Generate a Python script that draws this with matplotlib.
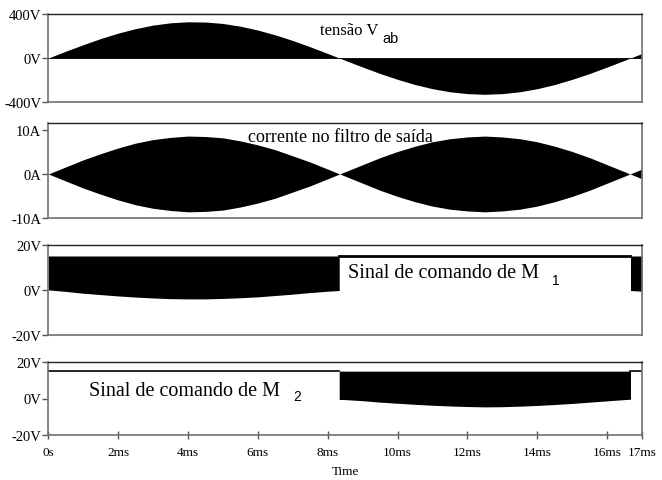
import matplotlib
matplotlib.use("Agg")
import matplotlib.pyplot as plt
import numpy as np

plt.rcParams['font.family'] = ['Liberation Serif', 'DejaVu Serif']

# Sample instants (ms) for the envelopes
t_ms = [0, 0.5, 1, 1.5, 2, 2.5, 3, 3.5, 4, 4.5, 5, 5.5, 6, 6.5, 7, 7.5, 8,
        8.5, 9, 9.5, 10, 10.5, 11, 11.5, 12, 12.5, 13, 13.5, 14, 14.5, 15,
        15.5, 16, 16.5, 17]

# Envelope of the PWM voltage V_ab (V)
vab_env = [0, 62, 121, 177, 226, 267, 299, 320, 329, 327, 314, 289, 254, 210,
           159, 102, 41, -21, -82, -141, -194, -241, -279, -307, -324, -330,
           -324, -307, -279, -241, -194, -141, -82, -21, 41]

# Envelope of the output-filter current ripple (A)
i_env = [0, 1.6, 3.2, 4.6, 5.9, 7.0, 7.8, 8.3, 8.6, 8.5, 8.2, 7.5, 6.6, 5.5,
         4.1, 2.7, 1.1, -0.5, -2.1, -3.7, -5.1, -6.3, -7.3, -8.0, -8.4, -8.6,
         -8.4, -8.0, -7.3, -6.3, -5.1, -3.7, -2.1, -0.5, 1.1]

# Gate drive level and switching windows
gate_high = 15
m1_t = [0, 0.5, 1, 1.5, 2, 2.5, 3, 3.5, 4, 4.5, 5, 5.5, 6, 6.5, 7, 7.5, 8, 8.33]
m1_low = [0, -0.7, -1.5, -2.1, -2.7, -3.2, -3.6, -3.9, -4.0, -4.0, -3.8, -3.5,
          -3.1, -2.5, -1.9, -1.2, -0.6, -0.3]
m1_t_end = [16.67, 17]
m1_low_end = [-0.3, -0.6]
m2_t = [8.33, 8.5, 9, 9.5, 10, 10.5, 11, 11.5, 12, 12.5, 13, 13.5, 14, 14.5,
        15, 15.5, 16, 16.5, 16.67]
m2_low = [-0.5, -0.6, -1.2, -2.0, -2.6, -3.2, -3.7, -4.1, -4.4, -4.6, -4.5,
          -4.2, -3.8, -3.3, -2.7, -2.0, -1.3, -0.6, -0.4]

x_ticks = [0, 2, 4, 6, 8, 10, 12, 14, 16, 17]
x_labels = ['0s', '2ms', '4ms', '6ms', '8ms', '10ms', '12ms', '14ms', '16ms', '17ms']

W, H = 662, 481
fig = plt.figure(figsize=(W / 100, H / 100), dpi=100)

left, right = 48.3 / W, 642 / W
panels_px = [(15, 103), (124.3, 219), (245.7, 336), (363, 436)]
axes = []
for top, bot in panels_px:
    ax = fig.add_axes([left, 1 - bot / H, right - left, (bot - top) / H])
    axes.append(ax)

YTICK_FS = 10.5
XTICK_FS = 9.5

def style(ax, ylim, ticks, labels):
    ax.set_xlim(0, 17)
    ax.set_ylim(*ylim)
    ax.set_yticks(ticks)
    ax.set_yticklabels(labels)
    ax.tick_params(axis='y', direction='out', length=4, width=1,
                   color='#555555', labelsize=YTICK_FS, pad=1)
    for side in ['left', 'right', 'bottom']:
        ax.spines[side].set_color('#707070')
        ax.spines[side].set_linewidth(1.2)
    ax.spines['top'].set_color('#222222')
    ax.spines['top'].set_linewidth(1.0)
    ax.set_xticks([])

ax1, ax2, ax3, ax4 = axes

# V_ab
ax1.fill_between(t_ms, 0, vab_env, color='black', lw=0, interpolate=True)
ax1.axhline(0, color='black', lw=0.6)
style(ax1, (-400, 400), [-400, 0, 400], ['-400V', '0V', '400V'])
ax1.text(0.458, 0.77, 'tensão V', transform=ax1.transAxes, fontsize=12,
         ha='left', va='baseline')
ax1.text(0.562, 0.678, 'ab', transform=ax1.transAxes, fontsize=10.5,
         family='Liberation Sans', ha='left', va='baseline')

# Filter current
i_env_arr = np.array(i_env)
ax2.fill_between(t_ms, -i_env_arr, i_env_arr, color='black', lw=0)
style(ax2, (-10, 11.5), [-10, 0, 10], ['-10A', '0A', '10A'])
ax2.text(0.336, 0.816, 'corrente no filtro de saída', transform=ax2.transAxes,
         fontsize=13, ha='left', va='baseline')

# Gate signal of M1
ax3.fill_between(m1_t, m1_low, gate_high, color='black', lw=0)
ax3.fill_between(m1_t_end, m1_low_end, gate_high, color='black', lw=0)
ax3.plot([m1_t[-1], m1_t_end[0]], [gate_high, gate_high], color='black', lw=2)
style(ax3, (-20, 20), [-20, 0, 20], ['-20V', '0V', '20V'])
ax3.text(0.505, 0.639, 'Sinal de comando de M', transform=ax3.transAxes,
         fontsize=14.5, ha='left', va='baseline')
ax3.text(0.848, 0.565, '1', transform=ax3.transAxes, fontsize=10,
         family='Liberation Sans', ha='left', va='baseline')

# Gate signal of M2
ax4.fill_between(m2_t, m2_low, gate_high, color='black', lw=0)
ax4.plot([0, m2_t[0]], [gate_high, gate_high], color='black', lw=1.2)
ax4.plot([m2_t[-1], 17], [gate_high, gate_high], color='black', lw=1.2)
style(ax4, (-20, 20), [-20, 0, 20], ['-20V', '0V', '20V'])
ax4.text(0.069, 0.548, 'Sinal de comando de M', transform=ax4.transAxes,
         fontsize=14.5, ha='left', va='baseline')
ax4.text(0.412, 0.484, '2', transform=ax4.transAxes, fontsize=10,
         family='Liberation Sans', ha='left', va='baseline')
ax4.set_xticks(x_ticks)
ax4.set_xticklabels(x_labels)
ax4.tick_params(axis='x', direction='inout', length=6, width=1,
                color='#555555', labelsize=XTICK_FS, pad=5)
ax4.set_xlabel('Time', fontsize=XTICK_FS, labelpad=5)

fig.savefig('out.png', dpi=100)
